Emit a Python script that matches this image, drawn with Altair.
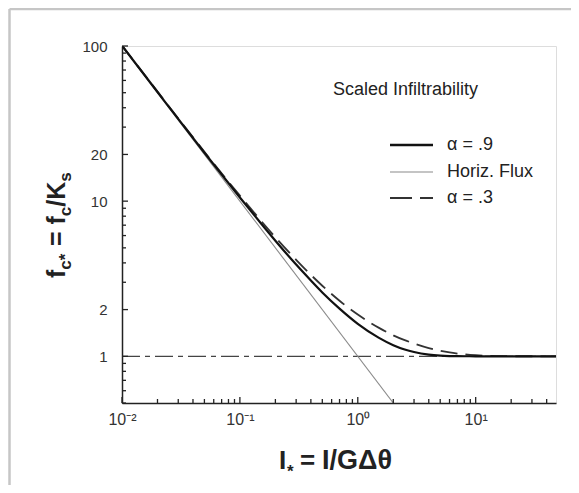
import altair as alt
import pandas as pd

# ---------------- data ----------------
i_star = [0.01, 0.02, 0.05, 0.1, 0.15, 0.2, 0.3, 0.4, 0.5, 0.7, 1.0, 1.5, 2.0,
          2.5, 3.0, 4.0, 5.0, 6.0, 7.0, 8.0, 10.0, 15.0, 20.0, 48.0]
f_alpha09 = [100.5, 50.5, 20.5, 10.56, 7.23, 5.56, 3.90, 3.08, 2.58, 2.03, 1.62, 1.32, 1.18,
             1.106, 1.065, 1.025, 1.01, 1.004, 1.002, 1.001, 1.0, 1.0, 1.0, 1.0]
f_alpha03 = [100.8, 50.8, 20.8, 10.85, 7.52, 5.85, 4.19, 3.35, 2.85, 2.28, 1.86, 1.53, 1.365,
             1.27, 1.21, 1.13, 1.086, 1.059, 1.042, 1.03, 1.016, 1.003, 1.001, 1.0]
flux_x = [0.01, 2.0]
flux_y = [100.0, 0.5]
unity_x = [0.01, 48.0]
unity_y = [1.0, 1.0]

y_major = [1, 2, 10, 20, 100]
y_minor = [0.5, 0.6, 0.7, 0.8, 0.9, 3, 4, 5, 6, 7, 8, 9, 30, 40, 50, 60, 70, 80, 90]
x_major = [0.01, 0.1, 1, 10]
x_major_labels = ["10⁻²", "10⁻¹", "10⁰", "10¹"]
x_minor = [0.02, 0.03, 0.04, 0.05, 0.06, 0.07, 0.08, 0.09,
           0.2, 0.3, 0.4, 0.5, 0.6, 0.7, 0.8, 0.9,
           2, 3, 4, 5, 6, 7, 8, 9, 20, 30, 40]

legend_title = "Scaled Infiltrability"
legend_labels = ["α = .9", "Horiz. Flux", "α = .3"]

# ---------------- layout ----------------
W, H = 434, 357
FONT = "Liberation Sans"
INK = "#222222"

xs = alt.Scale(type="log", domain=[0.01, 48], nice=False)
ys = alt.Scale(type="log", domain=[0.5, 100], nice=False)

lab_expr = " : ".join(
    [f"abs(log(datum.value)/log(10) - ({e})) < 0.01 ? '{t}'" for e, t in zip([-2, -1, 0, 1], x_major_labels)]
) + " : ''"

xaxis = alt.Axis(values=x_major, labelExpr=lab_expr, title=None, ticks=False, tickSize=0,
                 grid=False, domainColor=INK, domainWidth=1.5, labelFontSize=16,
                 labelColor="#333333", labelPadding=8, labelFlush=False, labelOverlap=False,
                 labelFont=FONT)
yaxis = alt.Axis(values=y_major, format="~g", title=None, ticks=False, tickSize=0,
                 grid=False, domainColor=INK, domainWidth=1.5, labelFontSize=15,
                 labelColor="#333333", labelPadding=15, labelOverlap=False, labelFont=FONT)


def X(f):
    return alt.X(f"{f}:Q", scale=xs, axis=xaxis)


def Y(f):
    return alt.Y(f"{f}:Q", scale=ys, axis=yaxis)


curves = pd.DataFrame({"i": i_star, "a09": f_alpha09, "a03": f_alpha03})
flux = pd.DataFrame({"i": flux_x, "f": flux_y})
unity = pd.DataFrame({"i": unity_x, "f": unity_y})

unity_l = alt.Chart(unity).mark_line(color="#444444", strokeWidth=1.2,
                                     strokeDash=[18, 5, 5, 5], clip=True).encode(x=X("i"), y=Y("f"))
flux_l = alt.Chart(flux).mark_line(color="#8a8a8a", strokeWidth=1.1, clip=True).encode(x=X("i"), y=Y("f"))
a03_l = alt.Chart(curves).mark_line(color="#333333", strokeWidth=1.8, strokeDash=[17, 8],
                                    interpolate="monotone", clip=True).encode(x=X("i"), y=Y("a03"))
a09_l = alt.Chart(curves).mark_line(color="#111111", strokeWidth=2.2,
                                    interpolate="monotone", clip=True).encode(x=X("i"), y=Y("a09"))

# inward tick marks
ymaj = alt.Chart(pd.DataFrame({"v": y_major})).mark_rule(color=INK, strokeWidth=1.3).encode(
    y=Y("v"), x=alt.value(0), x2=alt.value(6))
ymin = alt.Chart(pd.DataFrame({"v": y_minor})).mark_rule(color=INK, strokeWidth=1.3).encode(
    y=Y("v"), x=alt.value(0), x2=alt.value(4))
xmaj = alt.Chart(pd.DataFrame({"v": x_major})).mark_rule(color=INK, strokeWidth=1.3).encode(
    x=X("v"), y=alt.value(H), y2=alt.value(H - 6))
xmin = alt.Chart(pd.DataFrame({"v": x_minor})).mark_rule(color=INK, strokeWidth=1.3).encode(
    x=X("v"), y=alt.value(H), y2=alt.value(H - 4))


def txt(s, x, y, size, angle=0, weight="normal", align="left", baseline="alphabetic", color=INK):
    kw = dict(fontSize=size, font=FONT, fontWeight=weight, align=align, baseline=baseline, color=color)
    if angle:
        kw["angle"] = angle
    return alt.Chart(pd.DataFrame({"t": [s]})).mark_text(**kw).encode(
        x=alt.value(x), y=alt.value(y), text="t:N")


OX, OY = 122, 46  # page position of the plot origin

# y title  f_c* = f_c/K_s  (rotated)
BX, SX = 65 - OX, 71 - OX
ytitle = [
    txt("f", BX, 278 - OY, 25, 270, "bold"),
    txt("c", SX, 269.7 - OY, 17, 270, "bold"),
    txt("*", SX, 260.2 - OY, 17, 270, "bold"),
    txt("= f", BX, 246.0 - OY, 25, 270, "bold"),
    txt("c", SX, 216.2 - OY, 17, 270, "bold"),
    txt("/K", BX, 206.7 - OY, 25, 270, "bold"),
    txt("s", SX, 181.7 - OY, 17, 270, "bold"),
]
# x title  I* = I/GΔθ
xtitle = [
    txt("I", 279 - OX, 469 - OY, 26, 0, "bold"),
    txt("*", 287 - OX, 477 - OY, 17, 0, "bold"),
    txt("=", 300 - OX, 469 - OY, 26, 0, "bold"),
    txt("I/GΔθ", 322 - OX, 469 - OY, 27, 0, "bold"),
]

# in-plot legend
leg = [txt(legend_title, 333 - OX, 90 - OY, 18, baseline="middle")]
leg_y = [145 - OY, 172 - OY, 198 - OY]
leg_styles = [dict(color="#111111", strokeWidth=2.4),
              dict(color="#8a8a8a", strokeWidth=1.1),
              dict(color="#333333", strokeWidth=1.8, strokeDash=[22, 8])]
for lbl, yy, st in zip(legend_labels, leg_y, leg_styles):
    leg.append(alt.Chart(pd.DataFrame({"t": [lbl]})).mark_rule(**st).encode(
        x=alt.value(390 - OX), x2=alt.value(433 - OX), y=alt.value(yy)))
    leg.append(txt(lbl, 447 - OX, yy, 18, baseline="middle"))

# light outer frame of the figure
frame = [
    alt.Chart(pd.DataFrame({"t": [0]})).mark_rule(color="#c6c6c6", strokeWidth=2.5).encode(
        x=alt.value(-112.5), y=alt.value(-37), y2=alt.value(440)),
    alt.Chart(pd.DataFrame({"t": [0]})).mark_rule(color="#c6c6c6", strokeWidth=2.5).encode(
        x=alt.value(-112.5), x2=alt.value(450), y=alt.value(-37)),
]

chart = alt.layer(
    unity_l, flux_l, a03_l, a09_l, ymaj, ymin, xmaj, xmin, *ytitle, *xtitle, *leg, *frame
).properties(
    width=W, height=H,
    autosize=alt.AutoSizeParams(type="none"),
    padding={"left": 114, "top": 38, "right": 15, "bottom": 82},
).configure_view(
    stroke="#80809a", strokeWidth=1.5
).configure(background="white")

chart.save("out.html", embed_options={"renderer": "svg", "actions": False})
